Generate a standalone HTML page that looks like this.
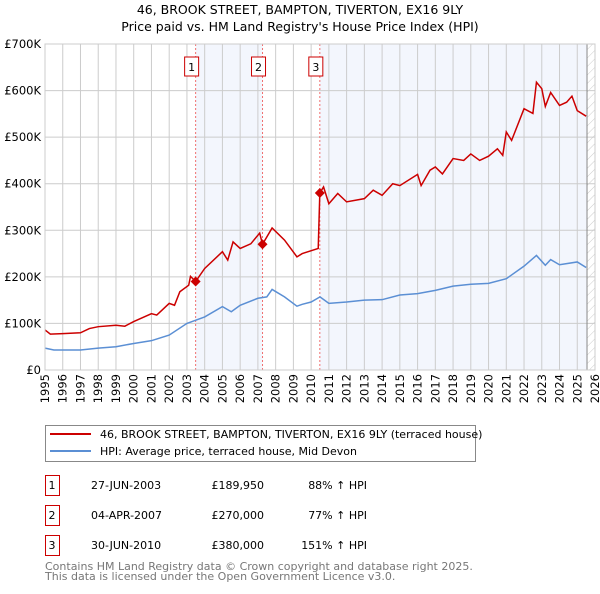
<!DOCTYPE html>
<html><head><meta charset="utf-8"><style>
body{margin:0;background:#fff;font-family:"DejaVu Sans","Liberation Sans",sans-serif;}
svg text{font-family:"DejaVu Sans","Liberation Sans",sans-serif;}
</style></head><body>
<svg id="chart" width="600" height="590" viewBox="0 0 600 590" xmlns="http://www.w3.org/2000/svg">
<defs><pattern id="hatch" width="6" height="6" patternUnits="userSpaceOnUse" patternTransform="rotate(45)"><line x1="0" y1="0" x2="0" y2="6" stroke="#ccc" stroke-width="1"/></pattern></defs>
<text x="300" y="14" text-anchor="middle" font-size="12.5" fill="#000">46, BROOK STREET, BAMPTON, TIVERTON, EX16 9LY</text>
<text x="300" y="31" text-anchor="middle" font-size="12.5" fill="#000">Price paid vs. HM Land Registry's House Price Index (HPI)</text>
<g id="plot"></g>
<g>
<rect x="45.5" y="425.5" width="430" height="36" fill="#fff" stroke="#888"/>
<line x1="50" y1="434" x2="91" y2="434" stroke="#cc0000" stroke-width="2"/>
<text x="100" y="438" font-size="11">46, BROOK STREET, BAMPTON, TIVERTON, EX16 9LY (terraced house)</text>
<line x1="50" y1="451" x2="91" y2="451" stroke="#5b8fd4" stroke-width="2"/>
<text x="100" y="455" font-size="11">HPI: Average price, terraced house, Mid Devon</text>
</g>
<g id="table" font-size="11"></g>
<text x="45" y="570" font-size="11" fill="#777">Contains HM Land Registry data © Crown copyright and database right 2025.</text>
<text x="45" y="580" font-size="11" fill="#777">This data is licensed under the Open Government Licence v3.0.</text>
</svg>
<script>
const hpiYears=[1995,1995.5,1996,1997,1998,1999,2000,2001,2002,2003,2003.5,2004,2005,2005.5,2006,2007,2007.5,2007.8,2008.5,2009.2,2009.5,2010,2010.5,2011,2012,2013,2014,2015,2016,2017,2018,2019,2020,2021,2022,2022.7,2023.2,2023.5,2024,2025,2025.5];
const hpiValues=[47,43,43,43,47,50,57,63,75,100,107,114,136,125,139,154,157,173,157,137,141,146,157,143,146,150,151,161,164,171,180,184,186,196,223,246,225,237,226,232,220];
const priceYears=[1995,1995.3,1996,1997,1997.5,1998,1999,1999.5,2000,2001,2001.3,2002,2002.3,2002.6,2003.1,2003.2,2003.49,2004,2005,2005.3,2005.6,2006,2006.6,2007.1,2007.26,2007.8,2008.5,2009.2,2009.5,2010.4,2010.49,2010.7,2011,2011.5,2012,2013,2013.5,2014,2014.6,2015,2016,2016.2,2016.7,2017,2017.4,2018,2018.6,2019,2019.5,2020,2020.5,2020.8,2021,2021.3,2022,2022.5,2022.7,2023,2023.2,2023.5,2024,2024.4,2024.7,2025,2025.5];
const priceValues=[86,77,78,80,89,93,96,94,104,121,118,143,139,168,182,201,190,218,254,236,275,261,271,294,270,305,279,243,250,261,380,393,357,379,361,368,386,375,400,396,420,396,429,436,421,454,450,464,450,459,475,461,511,493,561,551,618,604,566,596,568,575,588,557,545];
const saleLabels=["1","2","3"];
const saleYears=[2003.49,2007.26,2010.49];
const salePrices=[189.95,270,380];
const saleDates=["27-JUN-2003","04-APR-2007","30-JUN-2010"];
const salePriceText=["£189,950","£270,000","£380,000"];
const saleHpiText=["88% ↑ HPI","77% ↑ HPI","151% ↑ HPI"];
const yTicks=[0,100,200,300,400,500,600,700];
const yTickLabels=["£0","£100K","£200K","£300K","£400K","£500K","£600K","£700K"];
const xTicks=[1995,1996,1997,1998,1999,2000,2001,2002,2003,2004,2005,2006,2007,2008,2009,2010,2011,2012,2013,2014,2015,2016,2017,2018,2019,2020,2021,2022,2023,2024,2025,2026];
const dataEnd=2025.55;

const X0=45,X1=595,Y0=370,Y1=44;
const xs=y=>X0+(y-1995)/(2026-1995)*(X1-X0);
const ys=v=>Y0-v/700*(Y0-Y1);
const NS="http://www.w3.org/2000/svg";
const plot=document.getElementById('plot');
function mk(tag,attrs,parent){const e=document.createElementNS(NS,tag);for(const k in attrs)e.setAttribute(k,attrs[k]);(parent||plot).appendChild(e);return e;}

let r;
r=mk('rect',{x:xs(saleYears[0]),y:Y1,width:xs(saleYears[1])-xs(saleYears[0]),height:Y0-Y1,fill:'#f3f6fd'});


r=mk('rect',{x:xs(saleYears[2]),y:Y1,width:xs(dataEnd)-xs(saleYears[2]),height:Y0-Y1,fill:'#f3f6fd'});


r=mk('rect',{x:xs(dataEnd),y:Y1,width:X1-xs(dataEnd),height:Y0-Y1,fill:'url(#hatch)'});



xTicks.forEach(t=>{const l=mk('line',{x1:xs(t),x2:xs(t),y1:Y1,y2:Y0,stroke:'#ccc','stroke-width':1});


const tx=mk('text',{x:0,y:0,'font-size':11.5,'text-anchor':'end',transform:`translate(${xs(t)+4},${Y0+4}) rotate(-90)`});
tx.textContent=t;

});
yTicks.forEach((t,i)=>{const l=mk('line',{x1:X0,x2:X1,y1:ys(t),y2:ys(t),stroke:'#ccc','stroke-width':1});


const tx=mk('text',{x:X0-4,y:ys(t)+4,'font-size':11.5,'text-anchor':'end'});
tx.textContent=yTickLabels[i];

});
const ed=mk('line',{x1:xs(dataEnd),x2:xs(dataEnd),y1:Y1,y2:Y0,stroke:'#888','stroke-width':1});



saleYears.forEach((y,i)=>{const l=mk('line',{x1:xs(y),x2:xs(y),y1:Y1,y2:Y0,stroke:'#f07070','stroke-width':1,'stroke-dasharray':'2,2'});


const b=mk('rect',{x:xs(y)-11,y:57,width:14,height:19,fill:'#fff',stroke:'#cc0000'});


const t=mk('text',{x:xs(y)-4,y:71,'font-size':11,'text-anchor':'middle'});
t.textContent=saleLabels[i];

});

const hp=mk('polyline',{points:hpiYears.map((y,i)=>xs(y)+','+ys(hpiValues[i])).join(' '),fill:'none',stroke:'#5b8fd4','stroke-width':1.5});


const pp=mk('polyline',{points:priceYears.map((y,i)=>xs(y)+','+ys(priceValues[i])).join(' '),fill:'none',stroke:'#cc0000','stroke-width':1.5});


saleYears.forEach((y,i)=>{const cx=xs(y),cy=ys(salePrices[i]);
const d=mk('polygon',{points:`${cx},${cy-5} ${cx+5},${cy} ${cx},${cy+5} ${cx-5},${cy}`,fill:'#cc0000'});

});
const ax=mk('rect',{x:X0,y:Y1,width:X1-X0,height:Y0-Y1,fill:'none',stroke:'#ccc'});



const tb=document.getElementById('table');
saleLabels.forEach((s,i)=>{const y=475+i*30;
const b=mk('rect',{x:45.5,y:y+0.5,width:14,height:20,fill:'#fff',stroke:'#cc0000'},tb);


const cells=[[52,'middle',s,'table-index'],[91,'start',saleDates[i],'table-date'],[264,'end',salePriceText[i],'table-price'],[367,'end',saleHpiText[i],'table-hpi-change']];
cells.forEach(c=>{const t=mk('text',{x:c[0],y:y+14,'text-anchor':c[1]},tb);t.textContent=c[2];

});});
</script>
</body></html>
